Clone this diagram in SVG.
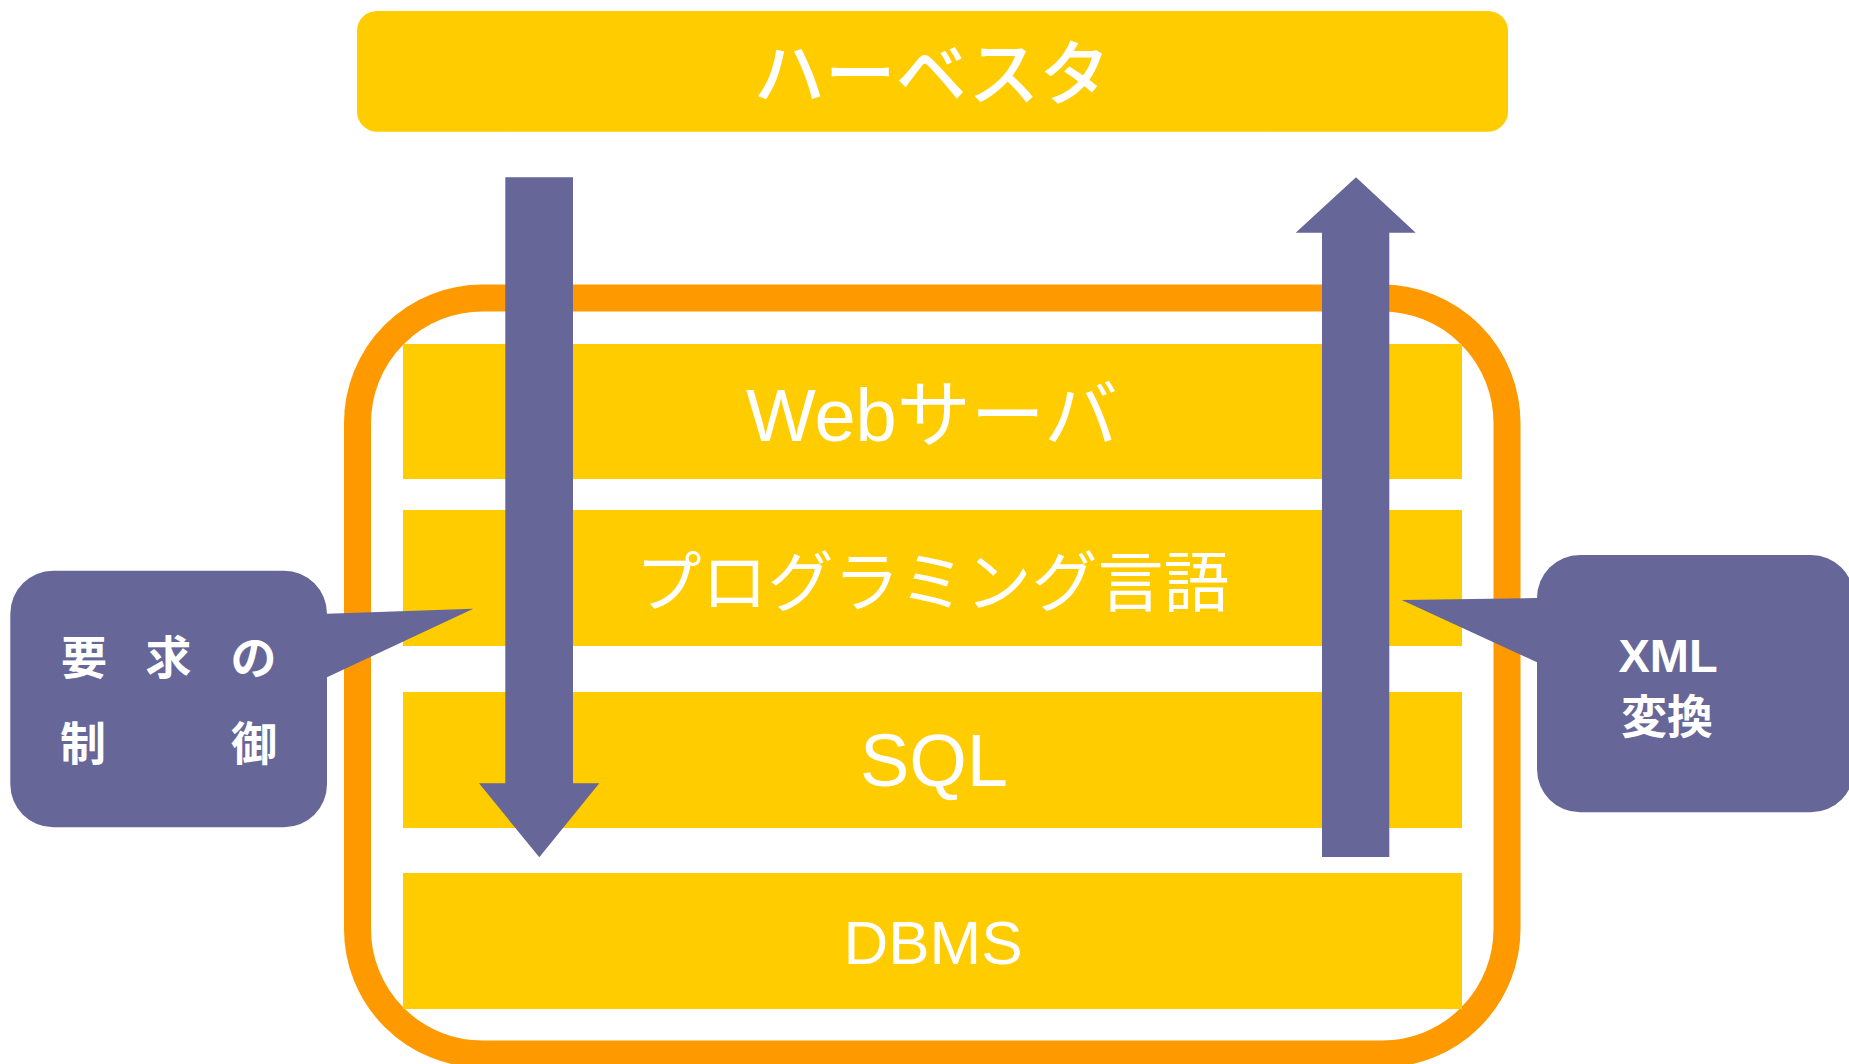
<svg xmlns="http://www.w3.org/2000/svg" width="1849" height="1064" viewBox="0 0 1849 1064">
  <style>
    .yellow { fill: #FFCC00; }
    .arrow { fill: #666699; }
    .wt { fill: #FFFFFF; font-family: "Liberation Sans", "Noto Sans CJK JP", sans-serif; }
    .cjk { fill: #FFFFFF; font-family: "Noto Sans CJK JP", sans-serif; }
    .bold { font-weight: bold; }
  </style>
  <rect width="1849" height="1064" fill="#FFFFFF"/>

  <g id="harvester">
    <rect class="yellow" x="357" y="11" width="1151" height="120.7" rx="20" ry="20"/>
    <text class="cjk" x="932" y="99" font-size="71" font-weight="500" text-anchor="middle">ハーベスタ</text>
  </g>

  <g id="server-frame">
    <rect x="357.5" y="298" width="1149.5" height="756" rx="125" ry="125" fill="none" stroke="#FF9900" stroke-width="27"/>
  </g>

  <g id="layer-web">
    <rect class="yellow" x="403" y="344" width="1059" height="135"/>
    <text class="wt" x="932" y="440.5" font-size="74" text-anchor="middle">Webサーバ</text>
  </g>
  <g id="layer-lang">
    <rect class="yellow" x="403" y="510" width="1059" height="136"/>
    <text class="wt" x="932.5" y="606" font-size="66" text-anchor="middle">プログラミング言語</text>
  </g>
  <g id="layer-sql">
    <rect class="yellow" x="403" y="692" width="1059" height="136"/>
    <text class="wt" x="934" y="786" font-size="74" text-anchor="middle">SQL</text>
  </g>
  <g id="layer-dbms">
    <rect class="yellow" x="403" y="873" width="1059" height="136"/>
    <text class="wt" x="933" y="964" font-size="62" text-anchor="middle">DBMS</text>
  </g>

  <g id="connectors">
    <polygon id="arrow-down" class="arrow" points="505.3,177.3 573,177.3 573,783.3 599.3,783.3 539.3,857.3 479,783.3 505.3,783.3"/>
    <polygon id="arrow-up" class="arrow" points="1356,177.3 1415.7,232.7 1389.3,232.7 1389.3,857 1322,857 1322,232.7 1295.7,232.7"/>
  </g>

  <g id="callout-request">
    <path class="arrow" d="M 53.3 570.7 H 284 A 43 43 0 0 1 327 613.7 L 473.3 608.7 L 327 677.3 V 784.3 A 43 43 0 0 1 284 827.3 H 53.3 A 43 43 0 0 1 10.3 784.3 V 613.7 A 43 43 0 0 1 53.3 570.7 Z"/>
    <g class="cjk bold" font-size="46" text-anchor="middle">
      <text x="84" y="674">要</text>
      <text x="168.5" y="674">求</text>
      <text x="253.5" y="674">の</text>
      <text x="83" y="760">制</text>
      <text x="254" y="760">御</text>
    </g>
  </g>

  <g id="callout-xml">
    <path class="arrow" d="M 1580 555 H 1811 A 43 43 0 0 1 1854 598 V 769.3 A 43 43 0 0 1 1811 812.3 H 1580 A 43 43 0 0 1 1537 769.3 V 662.3 L 1401.7 600 L 1537 598 A 43 43 0 0 1 1580 555 Z"/>
    <text class="wt bold" x="1668" y="672" font-size="47" text-anchor="middle">XML</text>
    <text class="cjk bold" x="1667" y="733" font-size="46" text-anchor="middle">変換</text>
  </g>
</svg>
